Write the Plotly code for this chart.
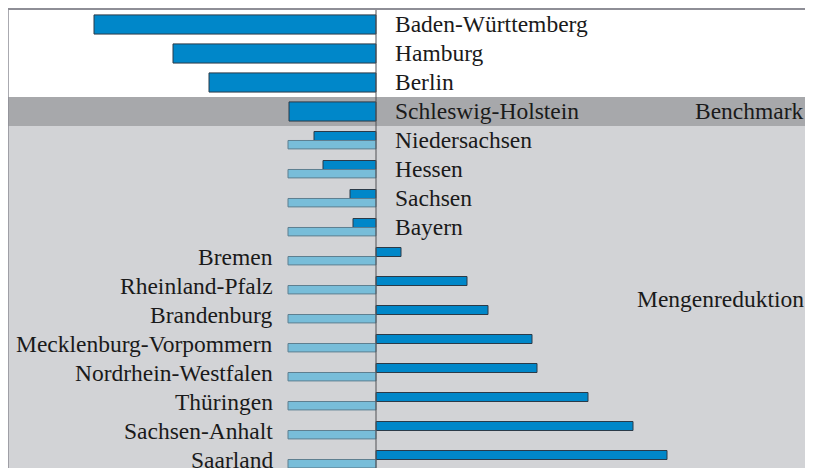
import plotly.graph_objects as go

# ---- data ----
states = ["Baden-Württemberg", "Hamburg", "Berlin", "Schleswig-Holstein",
          "Niedersachsen", "Hessen", "Sachsen", "Bayern",
          "Bremen", "Rheinland-Pfalz", "Brandenburg", "Mecklenburg-Vorpommern",
          "Nordrhein-Westfalen", "Thüringen", "Sachsen-Anhalt", "Saarland"]
values = [-282, -203, -167, -87, -62, -53, -26, -23,
          25, 91, 112, 156, 161, 212, 257, 291]
benchmark_value = -88
benchmark_state = "Schleswig-Holstein"
compare_states = states[4:]
band_labels = ["Benchmark", "Mengenreduktion"]

# ---- styling ----
DARK = "#0087C9"
LIGHT = "#78BDD9"
DARK_LINE = "#2B3A48"
LIGHT_LINE = "#5E7F90"
BAND_DARK = "#A7A8AB"
BAND_LIGHT = "#D2D3D6"
FONT = "Liberation Serif"
FS = 23.5
TXT = "#1A1A1A"

pos = list(range(len(states)))
bench_idx = states.index(benchmark_state)

widths, offsets = [], []
for i in pos:
    if i <= bench_idx:
        widths.append(0.66)
        offsets.append(-0.33)
    else:
        widths.append(0.31)
        offsets.append(-0.31)

fig = go.Figure()
fig.add_trace(go.Bar(
    y=pos, x=values, orientation="h",
    width=widths, offset=offsets,
    marker=dict(color=DARK, line=dict(color=DARK_LINE, width=1)),
    hoverinfo="skip", showlegend=False,
))
cmp_pos = [states.index(s) for s in compare_states]
fig.add_trace(go.Bar(
    y=cmp_pos, x=[benchmark_value] * len(cmp_pos), orientation="h",
    width=0.29, offset=0.0,
    marker=dict(color=LIGHT, line=dict(color=LIGHT_LINE, width=1)),
    hoverinfo="skip", showlegend=False,
))

shapes = [
    dict(type="rect", xref="paper", yref="y", x0=0, x1=1.02,
         y0=bench_idx - 0.5, y1=bench_idx + 0.5,
         fillcolor=BAND_DARK, line=dict(width=0), layer="below"),
    dict(type="rect", xref="paper", yref="y", x0=0, x1=1.02,
         y0=bench_idx + 0.5, y1=len(states) + 1,
         fillcolor=BAND_LIGHT, line=dict(width=0), layer="below"),
    dict(type="line", xref="x", yref="paper", x0=0, x1=0, y0=0, y1=1,
         line=dict(color="#505055", width=1), layer="above"),
    dict(type="line", xref="paper", yref="paper", x0=0, x1=1.02, y0=1, y1=1,
         line=dict(color="#8E8E96", width=2)),
    dict(type="line", xref="paper", yref="paper", x0=0, x1=0, y0=0, y1=1,
         line=dict(color="#8E8E96", width=1.5)),
]

annotations = []
for i, s in enumerate(states):
    if values[i] < 0:
        annotations.append(dict(x=17, y=i, xref="x", yref="y", text=s,
                                showarrow=False, xanchor="left", yanchor="middle",
                                font=dict(family=FONT, size=FS, color=TXT)))
    else:
        annotations.append(dict(x=-101, y=i, xref="x", yref="y", text=s,
                                showarrow=False, xanchor="right", yanchor="middle",
                                font=dict(family=FONT, size=FS, color=TXT)))
annotations.append(dict(x=1, y=bench_idx, xref="paper", yref="y", text=band_labels[0],
                        showarrow=False, xanchor="right", yanchor="middle", xshift=1,
                        font=dict(family=FONT, size=FS, color=TXT)))
annotations.append(dict(x=1, y=9.45, xref="paper", yref="y", text=band_labels[1],
                        showarrow=False, xanchor="right", yanchor="middle", xshift=1,
                        font=dict(family=FONT, size=FS, color=TXT)))

# page body has an 8px margin; the figure is sized to fit the rest of the window
fig.update_layout(
    width=805, height=460,
    margin=dict(l=0, r=8, t=1, b=0),
    paper_bgcolor="white", plot_bgcolor="white",
    barmode="overlay",
    xaxis=dict(range=[-368, 429], visible=False, fixedrange=True),
    yaxis=dict(range=[15.293, -0.534], visible=False, fixedrange=True),
    shapes=shapes, annotations=annotations,
)

fig.write_html("out.html")
